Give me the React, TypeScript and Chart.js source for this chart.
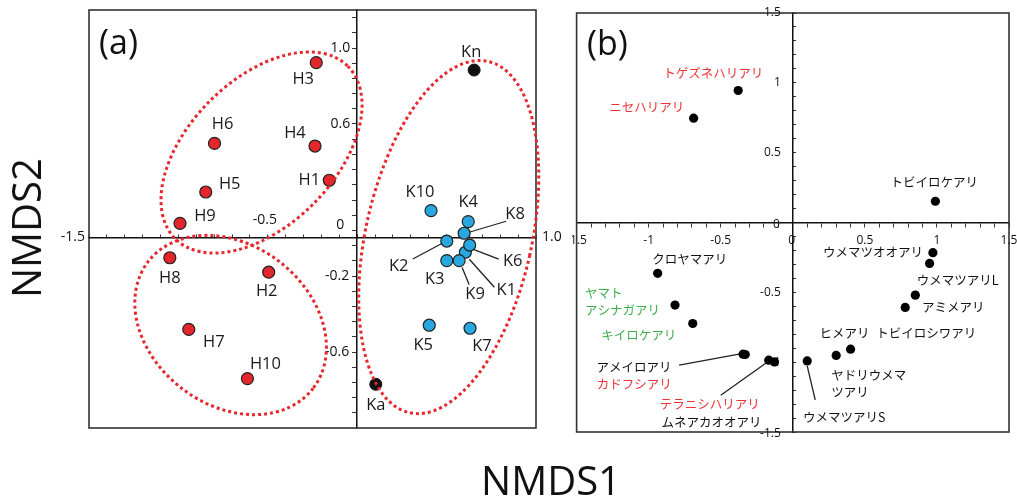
import React, { useEffect, useRef } from 'react';
import { Chart, registerables } from 'chart.js';

Chart.register(...registerables);

// ---------------- Panel (a): site scores ----------------
const hNames = ['H1', 'H2', 'H3', 'H4', 'H5', 'H6', 'H7', 'H8', 'H9', 'H10'];
const hX = [-0.156, -0.495, -0.229, -0.236, -0.847, -0.798, -0.942, -1.048, -0.991, -0.614];
const hY = [0.304, -0.18, 0.923, 0.484, 0.242, 0.498, -0.481, -0.104, 0.077, -0.74];

const kNames = ['K1', 'K2', 'K3', 'K4', 'K5', 'K6', 'K7', 'K8', 'K9', 'K10'];
const kX = [0.605, 0.501, 0.501, 0.621, 0.403, 0.629, 0.631, 0.598, 0.57, 0.413];
const kY = [-0.075, -0.016, -0.119, 0.086, -0.459, -0.037, -0.475, 0.025, -0.119, 0.144];

const refNames = ['Kn', 'Ka'];
const refX = [0.654, 0.104];
const refY = [0.884, -0.77];

const aXTickValues = [-1.5, -0.5, 1.0];
const aXTickText = ['-1.5', '-0.5', '1.0'];
const aYTickValues = [1.0, 0.6, 0, -0.2, -0.6];
const aYTickText = ['1.0', '0.6', '0', '-0.2', '-0.6'];

// group ellipse centres (data units)
const ellipseCX = [-0.535, -0.708, 0.512];
const ellipseCY = [0.45, -0.458, 0.005];

// ---------------- Panel (b): species scores ----------------
const antNames = [
  'トゲズネハリアリ', 'ニセハリアリ', 'トビイロケアリ', 'クロヤマアリ', 'ヤマトアシナガアリ',
  'キイロケアリ', 'アメイロアリ', 'カドフシアリ', 'テラニシハリアリ', 'ムネアカオオアリ',
  'ウメマツオオアリ', 'ウメマツアリL', 'アミメアリ', 'トビイロシワアリ', 'ヒメアリ',
  'ヤドリウメマツアリ', 'ウメマツアリS',
];
const antX = [-0.379, -0.688, 0.989, -0.9375, -0.817, -0.694, -0.345, -0.33, -0.167, -0.127, 0.972, 0.949, 0.85, 0.78, 0.401, 0.301, 0.1];
const antY = [0.945, 0.747, 0.152, -0.364, -0.591, -0.723, -0.943, -0.945, -0.986, -0.998, -0.216, -0.293, -0.52, -0.608, -0.907, -0.952, -0.991];
const antGroup = ['red', 'red', 'black', 'black', 'green', 'green', 'black', 'red', 'red', 'black', 'black', 'black', 'black', 'black', 'black', 'black', 'black'];

const bXTickValues = [-1.5, -1, -0.5, 0, 0.5, 1, 1.5];
const bXTickText = ['-1.5', '-1', '-0.5', '0', '0.5', '1', '1.5'];
const bYTickValues = [1.5, 1, 0.5, 0, -0.5, -1, -1.5];
const bYTickText = ['1.5', '1', '0.5', '0', '-0.5', '-1', '-1.5'];

// ---------------- styles / layout ----------------
const RED_PT = '#e3262b';
const BLUE_PT = '#29a8e0';
const TEXT_COLORS: Record<string, string> = { red: '#ec3338', green: '#3fae4f', black: '#111' };
const ELLIPSE_RED = '#e8262b';

// label placement (a): [dx, dy, leaderStartDx, leaderStartDy, leaderEndDx, leaderEndDy]
const aLabelPlace: Record<string, number[]> = {
  H1: [-20, 0], H2: [-2, 19], H3: [-13, 17], H4: [-20, -13], H5: [24, -8],
  H6: [8, -19], H7: [25, 13], H8: [0, 21], H9: [25, -7], H10: [18, -14],
  K1: [41, 38, 4, 7, 29, 35], K2: [-48, 25, -4, 2, -34, 18], K3: [-12, 19], K4: [0, -19],
  K5: [-6, 20], K6: [43, 16, 3, 4, 29, 14], K7: [12, 18], K8: [51, -19, 5, -1, 42, -12],
  K9: [16, 34, 3, 7, 10, 24], K10: [-11, -18], Kn: [-3, -18], Ka: [0, 21],
};
// ellipse shapes in px: [rx, ry, rotationDeg]
const ellipseShape = [[122, 73, -45], [104, 80, 37.5], [83, 180, 12.6]];

// tick label placement: [align, dx, dy]
const aXTickPlace: [CanvasTextAlign, number, number][] = [['right', -4, -1], ['center', -3, -18], ['left', 6, -1]];
const aYTickPlace: [CanvasTextAlign, number, number][] = [['right', -7, 0], ['right', -7, 0], ['right', -13, -13], ['right', -8, 0], ['right', -8, 0]];
const bXTickPlace: [CanvasTextAlign, number, number][] = bXTickValues.map((v) => ['center', v === 0 ? -1 : 0, 18.5]);
const bYTickPlace: [CanvasTextAlign, number, number][] = bYTickValues.map((v) => ['right', v === 0 ? -13 : -12, v === 0 || v === -1.5 ? 2 : 0]);

// label placement (b)
type BLab = { dx: number; dy: number; align?: CanvasTextAlign; lines?: string[]; gap?: number; leader?: number[] };
const bLabelPlace: BLab[] = [
  { dx: -25, dy: -17 },
  { dx: -47, dy: -11 },
  { dx: -1, dy: -19 },
  { dx: 32, dy: -14 },
  { dx: -90, dy: -12, align: 'left', lines: ['ヤマト', 'アシナガアリ'], gap: 17 },
  { dx: -54, dy: 12 },
  { dx: -109, dy: 13, leader: [-64, 11, -4, 0] },
  { dx: -111, dy: 30 },
  { dx: -59, dy: 44, leader: [-48, 35, -3, 3] },
  { dx: -63, dy: 60 },
  { dx: -60, dy: 0 },
  { dx: 28, dy: 17 },
  { dx: 38, dy: 12 },
  { dx: 21, dy: 26 },
  { dx: -6, dy: -16 },
  { dx: -5, dy: 20, align: 'left', lines: ['ヤドリウメマ', 'ツアリ'], gap: 17 },
  { dx: 37, dy: 56, leader: [0, 5, 8, 39] },
];

function tickRange(from: number, to: number, step: number): number[] {
  const out: number[] = [];
  for (let v = from; v <= to + 1e-9; v += step) out.push(Math.round(v * 1000) / 1000);
  return out;
}

function drawTickLabels(chart: any, font: string, xs: number[], xt: string[], xp: any[], ys: number[], yt: string[], yp: any[]) {
  const { ctx, scales } = chart;
  const sx = scales.x;
  const sy = scales.y;
  const x0 = sx.getPixelForValue(0);
  const y0 = sy.getPixelForValue(0);
  ctx.font = font;
  ctx.fillStyle = '#111';
  ctx.textBaseline = 'middle';
  xs.forEach((v, i) => {
    ctx.textAlign = xp[i][0];
    ctx.fillText(xt[i], sx.getPixelForValue(v) + xp[i][1], y0 + xp[i][2]);
  });
  ys.forEach((v, i) => {
    ctx.textAlign = yp[i][0];
    ctx.fillText(yt[i], x0 + yp[i][1], sy.getPixelForValue(v) + yp[i][2]);
  });
}

function drawFrame(chart: any) {
  const { ctx, chartArea: ca } = chart;
  ctx.strokeStyle = '#333';
  ctx.lineWidth = 1.6;
  ctx.strokeRect(ca.left, ca.top, ca.right - ca.left, ca.bottom - ca.top);
}

const panelAPlugin = {
  id: 'panelA',
  beforeDatasetsDraw(chart: any) {
    const { ctx } = chart;
    ctx.save();
    drawFrame(chart);
    drawTickLabels(chart, '14px "Open Sans"', aXTickValues, aXTickText, aXTickPlace, aYTickValues, aYTickText, aYTickPlace);
    // leaders
    const names = [hNames, kNames, refNames];
    ctx.strokeStyle = '#222';
    ctx.lineWidth = 1.3;
    names.forEach((list, di) => {
      const meta = chart.getDatasetMeta(di);
      list.forEach((n, j) => {
        const p = aLabelPlace[n];
        const el = meta.data[j];
        if (p && p.length === 6 && el) {
          ctx.beginPath();
          ctx.moveTo(el.x + p[2], el.y + p[3]);
          ctx.lineTo(el.x + p[4], el.y + p[5]);
          ctx.stroke();
        }
      });
    });
    ctx.restore();
  },
  afterDatasetsDraw(chart: any) {
    const { ctx, scales } = chart;
    ctx.save();
    // point labels
    const names = [hNames, kNames, refNames];
    ctx.font = '16.5px "Open Sans"';
    ctx.fillStyle = '#1a1a1a';
    ctx.textAlign = 'center';
    ctx.textBaseline = 'middle';
    names.forEach((list, di) => {
      const meta = chart.getDatasetMeta(di);
      list.forEach((n, j) => {
        const p = aLabelPlace[n];
        const el = meta.data[j];
        if (p && el) ctx.fillText(n, el.x + p[0], el.y + p[1]);
      });
    });
    // group ellipses
    ctx.strokeStyle = ELLIPSE_RED;
    ctx.lineWidth = 3;
    ctx.setLineDash([3, 3]);
    ellipseCX.forEach((cx, i) => {
      const [rx, ry, rot] = ellipseShape[i];
      ctx.beginPath();
      ctx.ellipse(scales.x.getPixelForValue(cx), scales.y.getPixelForValue(ellipseCY[i]), rx, ry, (rot * Math.PI) / 180, 0, Math.PI * 2);
      ctx.stroke();
    });
    ctx.setLineDash([]);
    // panel letter
    ctx.font = '34px "Open Sans"';
    ctx.fillStyle = '#111';
    ctx.textAlign = 'left';
    ctx.fillText('(a)', 99, 44);
    ctx.restore();
  },
};

const panelBPlugin = {
  id: 'panelB',
  beforeDatasetsDraw(chart: any) {
    const { ctx } = chart;
    ctx.save();
    drawFrame(chart);
    drawTickLabels(chart, '12px "Open Sans"', bXTickValues, bXTickText, bXTickPlace, bYTickValues, bYTickText, bYTickPlace);
    const meta = chart.getDatasetMeta(0);
    ctx.strokeStyle = '#222';
    ctx.lineWidth = 1.3;
    bLabelPlace.forEach((p, i) => {
      const el = meta.data[i];
      if (p.leader && el) {
        ctx.beginPath();
        ctx.moveTo(el.x + p.leader[0], el.y + p.leader[1]);
        ctx.lineTo(el.x + p.leader[2], el.y + p.leader[3]);
        ctx.stroke();
      }
    });
    ctx.restore();
  },
  afterDatasetsDraw(chart: any) {
    const { ctx } = chart;
    ctx.save();
    const meta = chart.getDatasetMeta(0);
    ctx.font = '12.5px "Noto Sans CJK JP"';
    ctx.textBaseline = 'middle';
    bLabelPlace.forEach((p, i) => {
      const el = meta.data[i];
      if (!el) return;
      ctx.fillStyle = TEXT_COLORS[antGroup[i]];
      ctx.textAlign = p.align || 'center';
      const lines = p.lines || [antNames[i]];
      lines.forEach((ln, k) => ctx.fillText(ln, el.x + p.dx, el.y + p.dy + k * (p.gap || 17)));
    });
    ctx.font = '34px "Open Sans"';
    ctx.fillStyle = '#111';
    ctx.textAlign = 'left';
    ctx.fillText('(b)', 15, 45);
    ctx.restore();
  },
};

function axisCfg(min: number, max: number, pos: any, minor: number[], tickLength: number) {
  return {
    type: 'linear',
    min,
    max,
    position: pos,
    afterBuildTicks: (s: any) => {
      s.ticks = minor.map((v) => ({ value: v }));
    },
    ticks: { display: false, autoSkip: false },
    grid: { display: true, drawOnChartArea: false, drawTicks: true, tickLength, color: '#333', lineWidth: 1 },
    border: { display: true, color: '#111', width: 1.5 },
  };
}

export default function App() {
  const refA = useRef<HTMLCanvasElement>(null);
  const refB = useRef<HTMLCanvasElement>(null);

  useEffect(() => {
    const common = {
      responsive: false,
      animation: false,
      events: [],
      plugins: { legend: { display: false }, tooltip: { enabled: false } },
    };
    const chartA = new Chart(refA.current as HTMLCanvasElement, {
      type: 'scatter',
      data: {
        datasets: [
          { data: hX.map((x, i) => ({ x, y: hY[i] })), backgroundColor: RED_PT, borderColor: '#222', borderWidth: 1.2, pointRadius: 6 },
          { data: kX.map((x, i) => ({ x, y: kY[i] })), backgroundColor: BLUE_PT, borderColor: '#222', borderWidth: 1.2, pointRadius: 6 },
          { data: refX.map((x, i) => ({ x, y: refY[i] })), backgroundColor: '#111', borderColor: '#111', borderWidth: 1, pointRadius: 6 },
        ],
      },
      options: {
        ...common,
        layout: { padding: { left: 89, top: 10, right: 36, bottom: 71 } },
        scales: {
          x: axisCfg(-1.5, 1.0, { y: 0 }, tickRange(-1.5, 1.0, 0.1), -4),
          y: axisCfg(-1.0, 1.2, { x: 0 }, tickRange(-0.92, 1.16, 0.08), 4),
        },
      } as any,
      plugins: [panelAPlugin],
    } as any);

    const chartB = new Chart(refB.current as HTMLCanvasElement, {
      type: 'scatter',
      data: {
        datasets: [
          { data: antX.map((x, i) => ({ x, y: antY[i] })), backgroundColor: '#000', borderColor: '#000', borderWidth: 0, pointRadius: 4.6 },
        ],
      },
      options: {
        ...common,
        layout: { padding: { left: 4, top: 13, right: 8, bottom: 67 } },
        scales: {
          x: axisCfg(-1.5, 1.5, { y: 0 }, tickRange(-1.5, 1.5, 0.1), 4),
          y: axisCfg(-1.5, 1.5, { x: 0 }, tickRange(-1.5, 1.5, 0.1), -4),
        },
      } as any,
      plugins: [panelBPlugin],
    } as any);

    return () => {
      chartA.destroy();
      chartB.destroy();
    };
  }, []);

  const titleFont: React.CSSProperties = {
    position: 'absolute',
    font: '40px "Open Sans"',
    lineHeight: 1,
    whiteSpace: 'nowrap',
    color: '#111',
  };

  return (
    <div style={{ position: 'fixed', left: 0, top: 0, width: 1017, height: 499, background: '#fff', overflow: 'hidden' }}>
      <canvas ref={refA} width={572} height={499} style={{ position: 'absolute', left: 0, top: 0 }} />
      <canvas ref={refB} width={445} height={499} style={{ position: 'absolute', left: 572, top: 0 }} />
      <div style={{ ...titleFont, left: 26, top: 228, transform: 'translate(-50%, -50%) rotate(-90deg)' }}>NMDS2</div>
      <div style={{ ...titleFont, left: 551, top: 480, transform: 'translate(-50%, -50%)' }}>NMDS1</div>
    </div>
  );
}
